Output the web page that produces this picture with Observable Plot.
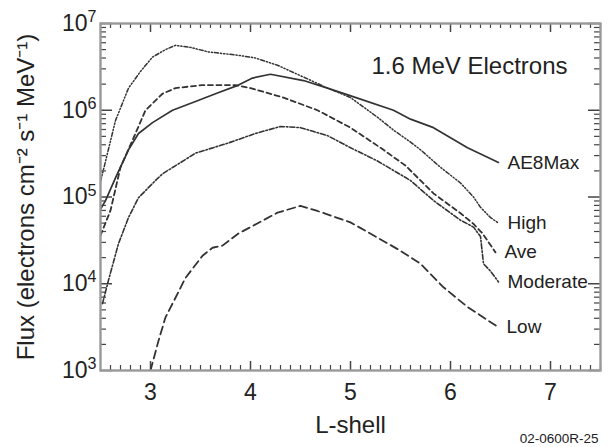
<!DOCTYPE html>
<html><head><meta charset="utf-8">
<script src="https://cdn.jsdelivr.net/npm/d3@7"></script>
<script src="https://cdn.jsdelivr.net/npm/@observablehq/plot@0.6"></script>
<style>body{margin:0;background:#fff} svg{display:block}</style>
</head><body><div id="chart"></div>
<script>
// ---- data (L-shell, flux) ----
const ae8maxL    = [2.5, 2.55, 2.65, 2.78, 2.88, 3.02, 3.22, 3.45, 3.65, 3.88, 4.02, 4.2, 4.53, 4.77, 5.07, 5.43, 5.6, 5.83, 6.17, 6.48];
const ae8maxFlux = [7.2e4, 9.1e4, 1.66e5, 3.5e5, 5.4e5, 7.2e5, 1.0e6, 1.26e6, 1.55e6, 1.95e6, 2.35e6, 2.6e6, 2.2e6, 1.8e6, 1.38e6, 1.0e6, 7.9e5, 6.3e5, 3.7e5, 2.5e5];

const highL    = [2.5, 2.65, 2.78, 2.9, 3.02, 3.15, 3.25, 3.4, 3.58, 3.88, 4.05, 4.27, 4.57, 4.77, 5.0, 5.27, 5.43, 5.6, 5.7, 5.9, 6.1, 6.23, 6.3, 6.4, 6.48];
const highFlux = [1.5e5, 7.6e5, 1.8e6, 2.8e6, 4.1e6, 5.0e6, 5.6e6, 5.3e6, 4.7e6, 4.3e6, 4.0e6, 3.3e6, 2.3e6, 1.8e6, 1.4e6, 8.3e5, 5.9e5, 4.3e5, 3.5e5, 2.2e5, 1.45e5, 1.0e5, 7.6e4, 5.8e4, 5.0e4];

const aveL    = [2.5, 2.6, 2.7, 2.82, 2.95, 3.12, 3.25, 3.52, 3.85, 4.0, 4.33, 4.67, 5.0, 5.33, 5.55, 5.83, 6.1, 6.23, 6.32, 6.45];
const aveFlux = [3.6e4, 7.0e4, 2.2e5, 4.5e5, 1.0e6, 1.55e6, 1.8e6, 1.95e6, 1.95e6, 1.8e6, 1.4e6, 1.0e6, 6.3e5, 3.5e5, 2.3e5, 1.1e5, 6.5e4, 4.9e4, 3.8e4, 2.3e4];

const moderateL    = [2.52, 2.58, 2.68, 2.78, 2.88, 3.05, 3.12, 3.45, 3.78, 4.05, 4.3, 4.5, 4.77, 5.0, 5.27, 5.6, 5.83, 6.1, 6.23, 6.3, 6.33, 6.4, 6.48];
const moderateFlux = [5.9e3, 1.1e4, 2.9e4, 5.8e4, 9.8e4, 1.55e5, 1.85e5, 3.2e5, 4.2e5, 5.4e5, 6.5e5, 6.3e5, 5.1e5, 3.7e5, 2.6e5, 1.55e5, 9.1e4, 5.4e4, 4.5e4, 3.5e4, 1.7e4, 1.4e4, 1.05e4];

const lowL    = [3.0, 3.08, 3.15, 3.25, 3.35, 3.52, 3.62, 3.72, 3.88, 4.0, 4.27, 4.5, 4.67, 5.0, 5.27, 5.5, 5.7, 5.93, 6.17, 6.47];
const lowFlux = [1.0e3, 2.2e3, 4.1e3, 6.9e3, 1.17e4, 2.1e4, 2.6e4, 2.75e4, 3.8e4, 4.5e4, 6.6e4, 7.9e4, 6.9e4, 5.1e4, 3.4e4, 2.4e4, 1.7e4, 9.1e3, 5.4e3, 3.2e3];

const seriesNames = ["AE8Max", "High", "Ave", "Moderate", "Low"];
const xMajor = [3, 4, 5, 6, 7];
const xMinor = d3.range(26, 76).map(v => v / 10).filter(v => !xMajor.includes(v));
const yMajor = [1e3, 1e4, 1e5, 1e6, 1e7];
const yMinor = [1e3, 1e4, 1e5, 1e6].flatMap(b => [2,3,4,5,6,7,8,9].map(k => k * b));

// ---- build table ----
const seriesData = {
  "AE8Max": [ae8maxL, ae8maxFlux],
  "High": [highL, highFlux],
  "Ave": [aveL, aveFlux],
  "Moderate": [moderateL, moderateFlux],
  "Low": [lowL, lowFlux]
};
const styles = {
  "AE8Max":   {strokeWidth: 1.7, strokeDasharray: null},
  "High":     {strokeWidth: 1.5, strokeDasharray: "4,2,1.2,2,1.2,2,1.2,2"},
  "Ave":      {strokeWidth: 1.8, strokeDasharray: "5,3.5"},
  "Moderate": {strokeWidth: 1.6, strokeDasharray: "5,2,1.5,2"},
  "Low":      {strokeWidth: 1.8, strokeDasharray: "8,4.5"}
};
const rows = seriesNames.flatMap(s => seriesData[s][0].map((L, i) => ({series: s, L, flux: seriesData[s][1][i]})));
const ends = seriesNames.map(s => rows.filter(r => r.series === s).at(-1));

const W = 608, H = 447, mL = 100, mR = 8, mT = 23, mB = 77;
const fw = W - mL - mR, fh = H - mT - mB;

const ink = "#222";
const frameColor = "#999";
const tickColor = "#444";

const lineMarks = seriesNames.map(s => Plot.line(rows.filter(r => r.series === s), {
  x: "L", y: "flux", stroke: "#333", clip: true,
  strokeWidth: styles[s].strokeWidth,
  strokeDasharray: styles[s].strokeDasharray
}));

// inward ticks on all four sides
const xTicks = (vals, len, w) => [
  Plot.tickX(vals, {x: d => d, insetTop: fh - len, stroke: tickColor, strokeWidth: w}),
  Plot.tickX(vals, {x: d => d, insetBottom: fh - len, stroke: tickColor, strokeWidth: w})
];
const yTicks = (vals, len, w) => [
  Plot.tickY(vals, {y: d => d, insetRight: fw - len, stroke: tickColor, strokeWidth: w}),
  Plot.tickY(vals, {y: d => d, insetLeft: fw - len, stroke: tickColor, strokeWidth: w})
];

const plot = Plot.plot({
  width: W, height: H,
  marginLeft: mL, marginRight: mR, marginTop: mT, marginBottom: mB,
  style: {fontFamily: "'Liberation Sans', Arial, Helvetica, sans-serif", color: ink, background: "#fff"},
  x: {domain: [2.5, 7.5]},
  y: {type: "log", domain: [1e3, 1e7]},
  marks: [
    ...xTicks(xMinor, 5, 1.2),
    ...xTicks(xMajor, 9, 1.5),
    ...yTicks(yMinor, 6, 1.2),
    ...yTicks(yMajor, 12, 1.5),
    ...lineMarks,
    Plot.text(ends, {x: "L", y: "flux", text: "series", textAnchor: "start", dx: 9, fontSize: 19, fill: ink}),
    Plot.text(["1.6 MeV Electrons"], {frameAnchor: "top-right", dx: -33, dy: 43, textAnchor: "end", lineAnchor: "middle", fontSize: 24, fill: ink}),
    Plot.text(["02-0600R-25"], {frameAnchor: "bottom-right", dx: -2, dy: 68, textAnchor: "end", lineAnchor: "middle", fontSize: 13.5, fill: ink}),
    Plot.axisX(xMajor, {anchor: "bottom", tickSize: 0, tickPadding: 13, fontSize: 23, fill: ink,
      label: "L-shell", labelAnchor: "center", labelOffset: 62, labelArrow: "none"}),
    Plot.axisY(yMajor, {anchor: "left", tickSize: 0, tickPadding: 4, fontSize: 23, fill: ink,
      tickFormat: d => "10^" + Math.round(Math.log10(d)),
      label: "Flux (electrons cm\u207B\u00B2 s\u207B\u00B9 MeV\u207B\u00B9)", labelAnchor: "center", labelOffset: 84, labelArrow: "none"}),
    Plot.frame({stroke: frameColor, strokeWidth: 2.4})
  ]
});

// superscript exponents on y tick labels
d3.select(plot).selectAll("text").each(function() {
  const t = this.textContent;
  const m = /^10\^(\d+)$/.exec(t);
  if (m) {
    const el = d3.select(this);
    el.text("");
    el.append("tspan").text("10");
    el.append("tspan").attr("dy", "-0.55em").attr("font-size", "0.7em").text(m[1]);
  }
});
d3.select(plot).selectAll("g[aria-label='x-axis label'] text, g[aria-label='y-axis label'] text").attr("font-size", 24);

document.getElementById("chart").appendChild(plot);
</script>
</body></html>
